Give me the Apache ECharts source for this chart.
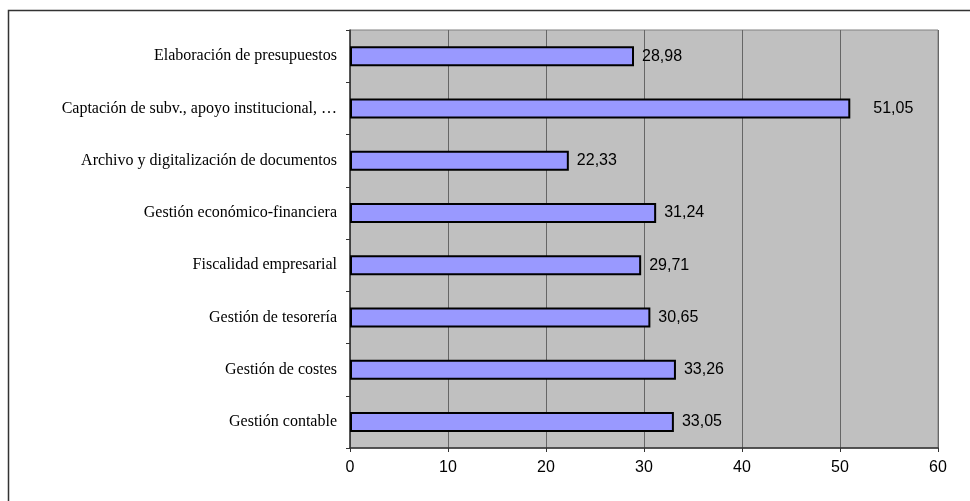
<!DOCTYPE html>
<html>
<head>
<meta charset="utf-8">
<script src="https://cdn.jsdelivr.net/npm/echarts@6/dist/echarts.min.js"></script>
<style>
html,body{margin:0;padding:0;background:#fff;}
#chart{width:970px;height:501px;}
</style>
</head>
<body>
<div id="chart"></div>
<script>
const categories = [
  "Elaboración de presupuestos",
  "Captación de subv., apoyo institucional, …",
  "Archivo y digitalización de documentos",
  "Gestión económico-financiera",
  "Fiscalidad empresarial",
  "Gestión de tesorería",
  "Gestión de costes",
  "Gestión contable"
];
const values = [28.98, 51.05, 22.33, 31.24, 29.71, 30.65, 33.26, 33.05];
const xTicks = [0, 10, 20, 30, 40, 50, 60];

const seriesData = values.map((v, i) => i === 1 ? {value: v, label: {distance: 23}} : v);

const chart = echarts.init(document.getElementById('chart'), null, {renderer: 'canvas'});
chart.setOption({
  animation: false,
  backgroundColor: '#ffffff',
  graphic: [{
    type: 'rect',
    shape: {x: 8.5, y: 10.5, width: 1200, height: 800},
    style: {fill: 'none', stroke: '#333', lineWidth: 1.5},
    silent: true
  }],
  grid: {
    left: 350, right: 32, top: 30, bottom: 53,
    show: true, backgroundColor: '#c0c0c0', borderColor: '#808080', borderWidth: 1
  },
  xAxis: {
    type: 'value', min: xTicks[0], max: xTicks[xTicks.length - 1], interval: 10,
    axisLine: {show: true, onZero: false, lineStyle: {color: '#333', width: 1.5}},
    axisTick: {show: true, length: 4, lineStyle: {color: '#333'}},
    axisLabel: {color: '#000', fontFamily: 'Liberation Sans, Arial', fontSize: 16, margin: 12,
      formatter: v => String(v)},
    splitLine: {show: true, lineStyle: {color: '#666', width: 1}}
  },
  yAxis: {
    type: 'category', data: categories, inverse: true,
    axisLine: {show: true, lineStyle: {color: '#333', width: 1.5}},
    axisTick: {show: true, length: 4, inside: false, lineStyle: {color: '#333'}},
    axisLabel: {color: '#000', fontFamily: 'Liberation Serif, Times New Roman, serif', fontSize: 16, margin: 13},
    splitLine: {show: false}
  },
  series: [{
    type: 'bar', data: seriesData, barWidth: 20,
    itemStyle: {color: '#9999ff', borderColor: '#000', borderWidth: 2},
    label: {show: true, position: 'right', distance: 8, color: '#000',
      fontFamily: 'Liberation Sans, Arial', fontSize: 16,
      formatter: p => p.value.toFixed(2).replace('.', ',')}
  }]
});
</script>
</body>
</html>
